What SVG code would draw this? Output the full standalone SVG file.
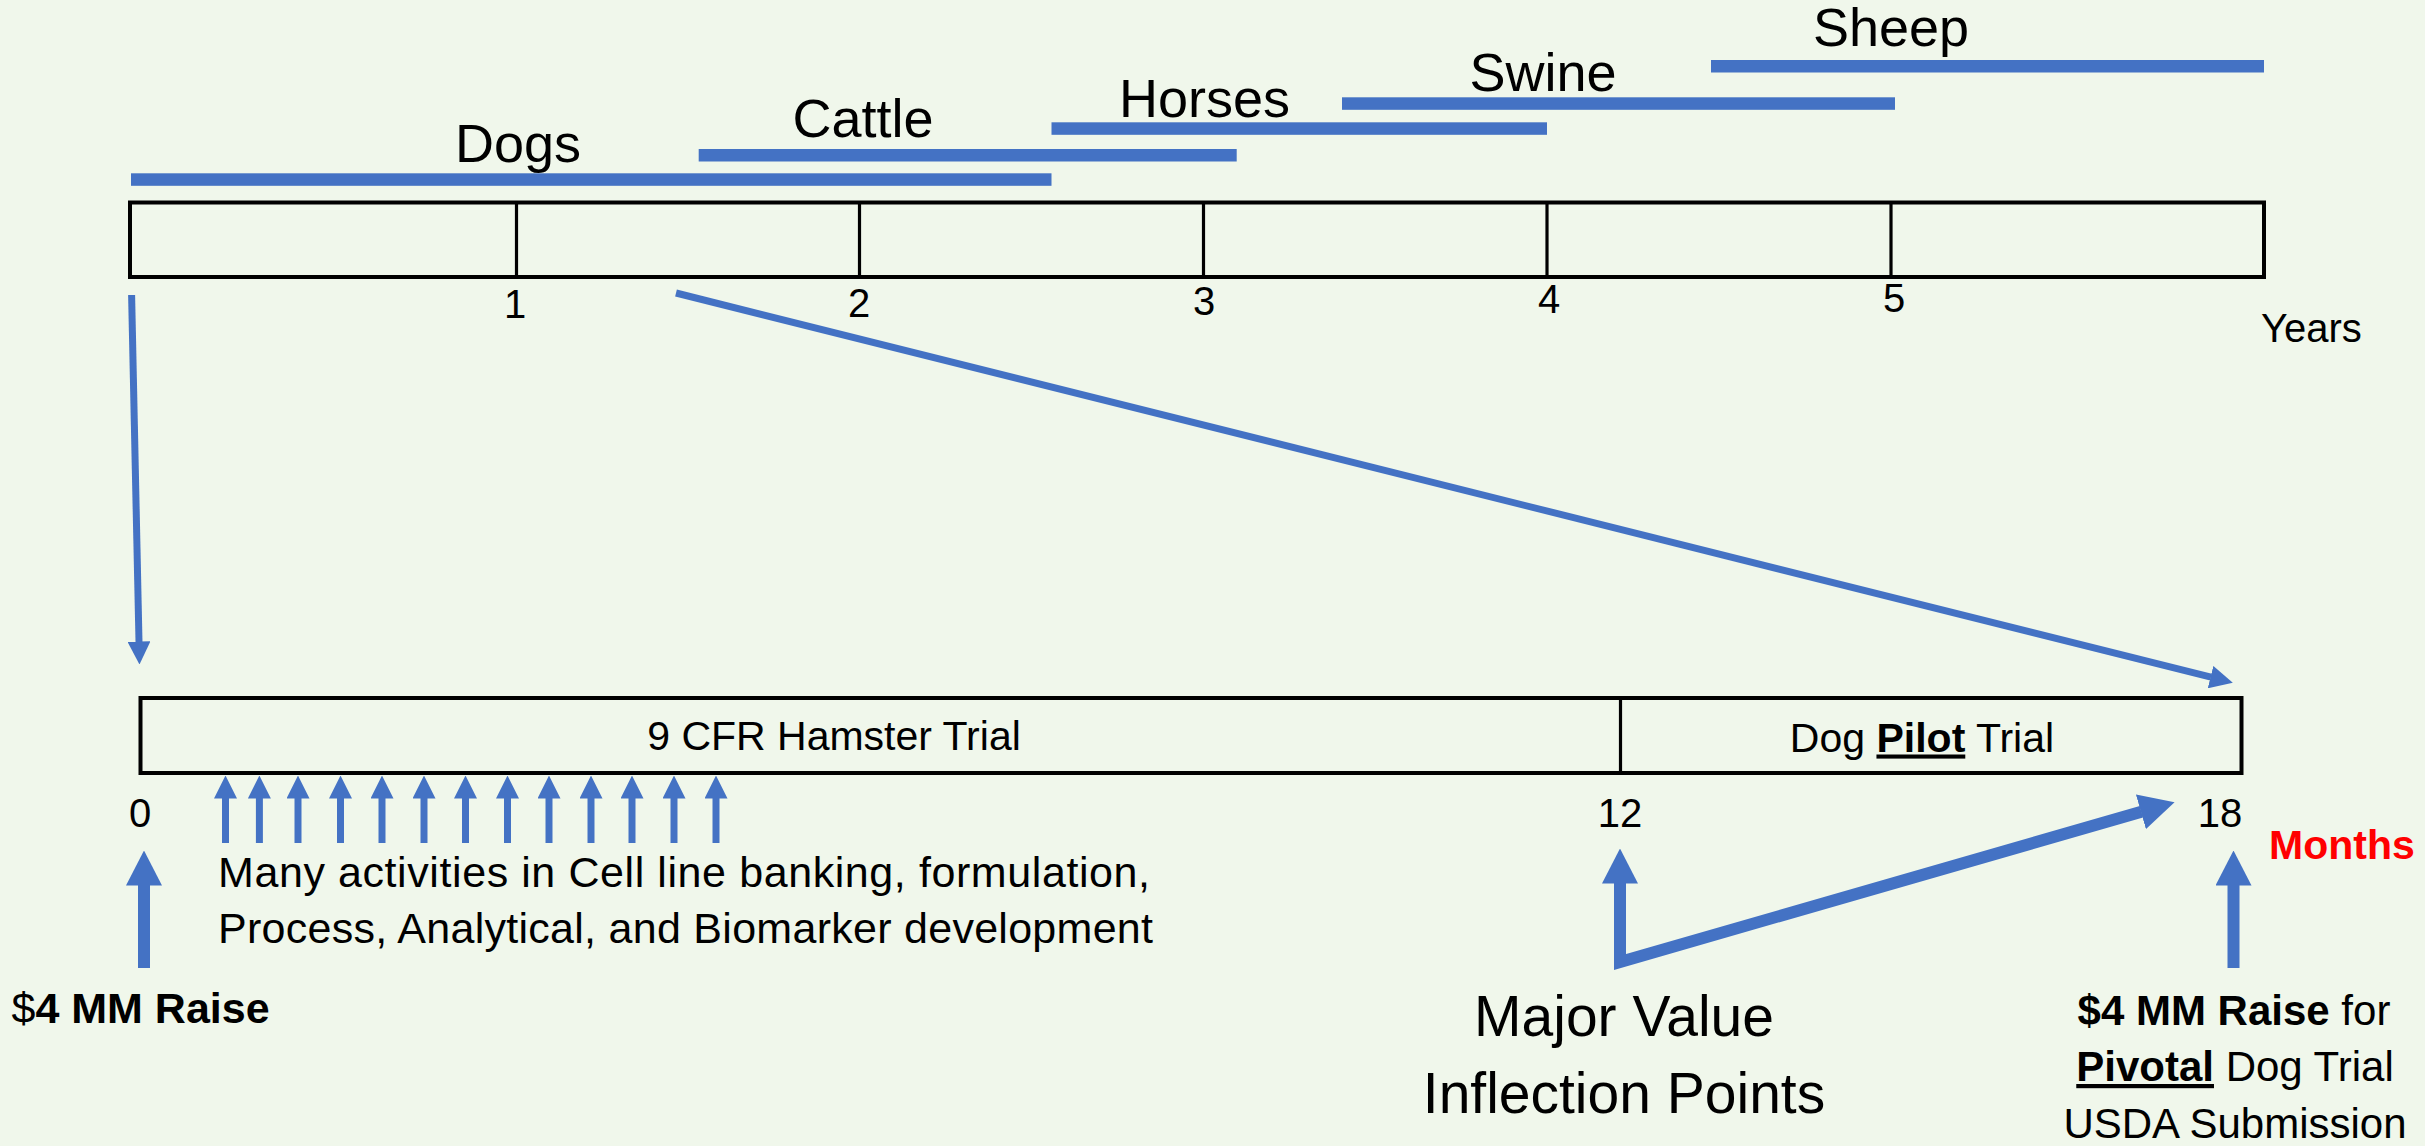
<svg xmlns="http://www.w3.org/2000/svg" width="2425" height="1146" viewBox="0 0 2425 1146">
  <style>
    text { font-family: "Liberation Sans", Arial, sans-serif; fill: #000; }
    .animal { font-size: 54px; text-anchor: middle; }
    .tick { font-size: 40px; text-anchor: middle; }
    .bar { fill: #4472C4; }
    .frame { fill: none; stroke: #000; stroke-width: 4; }
    .div { stroke: #000; stroke-width: 3.2; }
    .thin { fill: none; stroke: #4472C4; stroke-width: 7; marker-end: url(#headThin); }
    .big { fill: none; stroke: #4472C4; stroke-width: 12; }
    .b { font-weight: bold; }
  </style>
  <defs>
    <marker id="headThin" markerUnits="userSpaceOnUse" viewBox="0 0 23 23" markerWidth="23" markerHeight="23" refX="0.5" refY="11.5" orient="auto">
      <path d="M0,0 L23,11.5 L0,23 Z" fill="#4472C4"/>
    </marker>
    <marker id="headBig" markerUnits="userSpaceOnUse" viewBox="0 0 35 36" markerWidth="35" markerHeight="36" refX="0.5" refY="18" orient="auto-start-reverse">
      <path d="M0,0 L35,18 L0,36 Z" fill="#4472C4"/>
    </marker>
  </defs>
  <rect id="background" x="0" y="0" width="2425" height="1146" fill="#F0F7EB"/>

  <g id="species-bars">
    <g id="dogs"><rect class="bar" x="131" y="173.3" width="920.5" height="12.5"/><text class="animal" x="518" y="162">Dogs</text></g>
    <g id="cattle"><rect class="bar" x="698.7" y="149" width="538" height="12.5"/><text class="animal" x="863" y="137">Cattle</text></g>
    <g id="horses"><rect class="bar" x="1051.5" y="122.3" width="495.5" height="12.5"/><text class="animal" x="1204.5" y="117">Horses</text></g>
    <g id="swine"><rect class="bar" x="1342" y="97.3" width="553" height="12.5"/><text class="animal" x="1543" y="91">Swine</text></g>
    <g id="sheep"><rect class="bar" x="1711" y="60" width="553" height="12.5"/><text class="animal" x="1891" y="46">Sheep</text></g>
  </g>

  <g id="years-timeline">
    <rect class="frame" x="130" y="202.5" width="2134" height="74.5"/>
    <line class="div" x1="516.5" y1="202.5" x2="516.5" y2="277"/>
    <line class="div" x1="859.5" y1="202.5" x2="859.5" y2="277"/>
    <line class="div" x1="1203.5" y1="202.5" x2="1203.5" y2="277"/>
    <line class="div" x1="1547" y1="202.5" x2="1547" y2="277"/>
    <line class="div" x1="1891" y1="202.5" x2="1891" y2="277"/>
    <text class="tick" x="515" y="318">1</text>
    <text class="tick" x="859" y="317">2</text>
    <text class="tick" x="1204" y="315">3</text>
    <text class="tick" x="1549" y="313">4</text>
    <text class="tick" x="1894" y="312">5</text>
    <text x="2261" y="342" font-size="40">Years</text>
  </g>

  <g id="months-timeline">
    <rect class="frame" x="140.5" y="698" width="2101" height="75"/>
    <line class="div" x1="1620.5" y1="698" x2="1620.5" y2="773"/>
    <text x="834" y="750" font-size="41" text-anchor="middle">9 CFR Hamster Trial</text>
    <text x="1922" y="751.5" font-size="41" text-anchor="middle">Dog <tspan class="b" text-decoration="underline">Pilot</tspan> Trial</text>
    <text class="tick" x="140" y="827">0</text>
    <text class="tick" x="1620" y="827">12</text>
    <text class="tick" x="2220" y="827">18</text>
    <text x="2269" y="859" font-size="41" font-weight="bold" fill="#FF0000" style="fill:#FF0000">Months</text>
  </g>

  <g id="connectors">
    <path class="thin" d="M131.6,295 L139,642"/>
    <path class="thin" d="M676,293 L2211,677.2"/>
    <path class="thin" d="M225.5,843 V798"/>
    <path class="thin" d="M259.4,843 V798"/>
    <path class="thin" d="M298,843 V798"/>
    <path class="thin" d="M340.5,843 V798"/>
    <path class="thin" d="M382,843 V798"/>
    <path class="thin" d="M424,843 V798"/>
    <path class="thin" d="M465.5,843 V798"/>
    <path class="thin" d="M507.5,843 V798"/>
    <path class="thin" d="M549,843 V798"/>
    <path class="thin" d="M591,843 V798"/>
    <path class="thin" d="M632,843 V798"/>
    <path class="thin" d="M674,843 V798"/>
    <path class="thin" d="M716,843 V798"/>
    <path class="big" d="M144,968 V885" marker-end="url(#headBig)"/>
    <path class="big" d="M1620,883 V962 L2141.4,811.7" marker-start="url(#headBig)" marker-end="url(#headBig)"/>
    <path class="big" d="M2233.5,968 V885" marker-end="url(#headBig)"/>
  </g>

  <g id="activities-note">
    <text x="218" y="886.5" font-size="43" textLength="932">Many activities in Cell line banking, formulation,</text>
    <text x="218" y="942.5" font-size="43" textLength="935">Process, Analytical, and Biomarker development</text>
  </g>

  <g id="raise-initial">
    <text x="11.5" y="1023" font-size="43">$<tspan class="b">4 MM Raise</tspan></text>
  </g>

  <g id="inflection-points">
    <text x="1624" y="1036" font-size="57" text-anchor="middle">Major Value</text>
    <text x="1624" y="1113" font-size="57" text-anchor="middle">Inflection Points</text>
  </g>

  <g id="raise-pivotal">
    <text x="2234" y="1025" font-size="42" text-anchor="middle"><tspan class="b">$4 MM Raise</tspan> for</text>
    <text x="2235" y="1081" font-size="42" text-anchor="middle"><tspan class="b" text-decoration="underline">Pivotal</tspan> Dog Trial</text>
    <text x="2235" y="1138" font-size="42" text-anchor="middle">USDA Submission</text>
  </g>
</svg>
